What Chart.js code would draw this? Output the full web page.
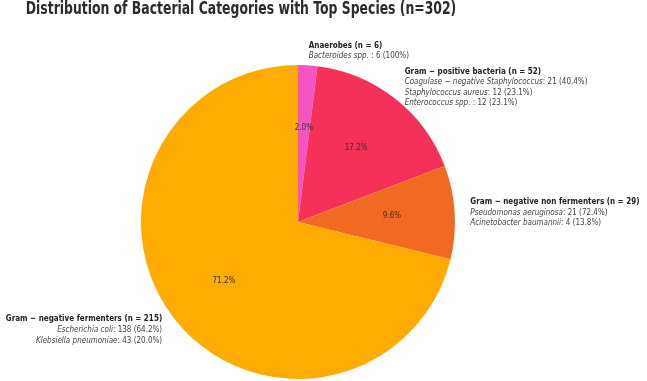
<!DOCTYPE html>
<html>
<head>
  <meta charset="UTF-8">
  <title>Bacterial Categories</title>
  <script src="https://cdn.jsdelivr.net/npm/chart.js"></script>
  <style>
    body { margin: 0; background: #fff; }
    #wrap { width: 647px; height: 381px; }
  </style>
</head>
<body>
  <div id="wrap"><canvas id="chart" width="647" height="381"></canvas></div>

  <script>
    const titleText = "Distribution of Bacterial Categories with Top Species (n=302)";
    const categories = ["Anaerobes", "Gram − positive bacteria", "Gram − negative non fermenters", "Gram − negative fermenters"];
    const counts = [6, 52, 29, 215];
    const colors = ["#F455C3", "#F43259", "#F26A22", "#FFAB00"];
    // top species per category: [name, count, percent-of-category]
    const species = [
      [["Bacteroides spp. ", 6, "100%"]],
      [["Coagulase − negative Staphylococcus", 21, "40.4%"], ["Staphylococcus aureus", 12, "23.1%"], ["Enterococcus spp. ", 12, "23.1%"]],
      [["Pseudomonas aeruginosa", 21, "72.4%"], ["Acinetobacter baumannii", 4, "13.8%"]],
      [["Escherichia coli", 138, "64.2%"], ["Klebsiella pneumoniae", 43, "20.0%"]]
    ];
    const total = counts.reduce((a, b) => a + b, 0);

    const FONT = "'DejaVu Sans', sans-serif";
    const LABEL_SIZE = 9;
    const LINE_H = 10.6;
    const SX = 0.8;        // reference text is a bit narrow
    const TITLE_SX = 0.73;

    // draws text squeezed horizontally, x is the left edge
    function squeezed(ctx, text, x, y, sx) {
      ctx.save();
      ctx.translate(x, y);
      ctx.scale(sx || SX, 1);
      ctx.fillText(text, 0, 0);
      ctx.restore();
    }

    const labelPlugin = {
      id: "labels",
      afterDraw(chart) {
        const ctx = chart.ctx;
        ctx.save();
        // title
        ctx.fillStyle = "#2b2b2b";
        ctx.font = "bold 17px " + FONT;
        ctx.textBaseline = "alphabetic";
        ctx.textAlign = "left";
        const tw = ctx.measureText(titleText).width * TITLE_SX;
        squeezed(ctx, titleText, 241 - tw / 2, 14, TITLE_SX);

        const arcs = chart.getDatasetMeta(0).data;
        arcs.forEach((arc, i) => {
          const mid = (arc.startAngle + arc.endAngle) / 2;
          const r = arc.outerRadius;
          // percent inside
          ctx.font = LABEL_SIZE + "px " + FONT;
          ctx.fillStyle = "#333";
          ctx.textBaseline = "middle";
          ctx.textAlign = "left";
          const pct = (counts[i] / total * 100).toFixed(1) + "%";
          const pw = ctx.measureText(pct).width * SX;
          squeezed(ctx, pct, arc.x + 0.6 * r * Math.cos(mid) - pw / 2, arc.y + 0.6 * r * Math.sin(mid));

          // outside label block
          const lx = arc.x + 1.1 * r * Math.cos(mid);
          const ly = arc.y + 1.1 * r * Math.sin(mid) + 1;
          const right = Math.cos(mid) > 0;
          const lines = [];
          lines.push([{ t: categories[i] + " (n = " + counts[i] + ")", f: "bold " + LABEL_SIZE + "px " + FONT, c: "#222" }]);
          species[i].forEach(s => {
            lines.push([
              { t: s[0], f: "italic " + LABEL_SIZE + "px " + FONT, c: "#444" },
              { t: ": " + s[1] + " (" + s[2] + ")", f: LABEL_SIZE + "px " + FONT, c: "#444" }
            ]);
          });
          const y0 = ly - (lines.length - 1) * LINE_H / 2;
          lines.forEach((parts, k) => {
            let w = 0;
            parts.forEach(p => { ctx.font = p.f; w += ctx.measureText(p.t).width * SX; });
            let x = right ? lx : lx - w;
            parts.forEach(p => {
              ctx.font = p.f;
              ctx.fillStyle = p.c;
              squeezed(ctx, p.t, x, y0 + k * LINE_H);
              x += ctx.measureText(p.t).width * SX;
            });
          });
        });
        ctx.restore();
      }
    };

    new Chart(document.getElementById("chart"), {
      type: "pie",
      data: {
        labels: categories,
        datasets: [{
          data: counts,
          backgroundColor: colors,
          borderWidth: 0
        }]
      },
      options: {
        responsive: false,
        animation: false,
        layout: { padding: { left: 141, right: 192, top: 65, bottom: 2 } },
        plugins: {
          legend: { display: false },
          tooltip: { enabled: false }
        }
      },
      plugins: [labelPlugin]
    });
  </script>
</body>
</html>
